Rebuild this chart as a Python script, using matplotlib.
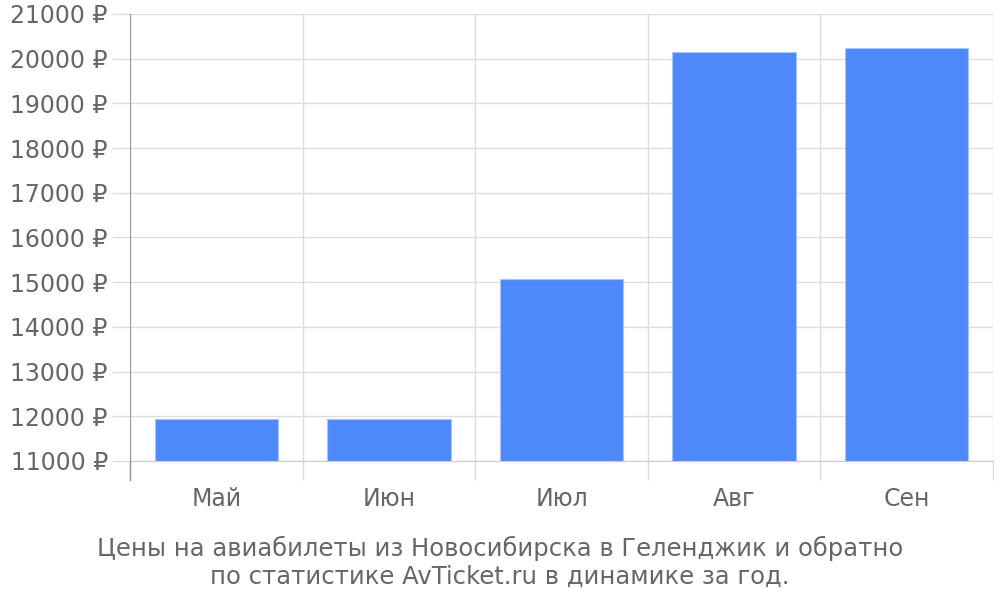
import matplotlib.pyplot as plt
import numpy as np

months = ["Май", "Июн", "Июл", "Авг", "Сен"]
prices = [11950, 11950, 15060, 20160, 20250]
y_ticks = list(range(11000, 21001, 1000))
caption = ("Цены на авиабилеты из Новосибирска в Геленджик и обратно\n"
           "по статистике AvTicket.ru в динамике за год.")

plt.rcParams['font.family'] = ['DejaVu Sans']

fig = plt.figure(figsize=(10, 6), dpi=100)
ax = fig.add_axes([0.13, 0.2317, 0.863, 0.745])

x = np.arange(len(months))
ax.bar(x, np.array(prices) - 11000, bottom=11000, width=0.715,
       color='#4d89f9', edgecolor='#a9c4fb', linewidth=0.8, zorder=3)

ax.set_xlim(-0.5, len(months) - 0.5)
ax.set_ylim(11000, 21000)

# y ticks and horizontal grid
ax.set_yticks(y_ticks)
ax.set_yticklabels([f"{v} ₽" for v in y_ticks])
ax.tick_params(axis='y', length=13, color='#dddddd', width=1, pad=3,
               labelsize=17, labelcolor='#666666')
ax.grid(axis='y', color='#dddddd', linewidth=1, zorder=0)

# x labels centred, grid at category boundaries
ax.set_xticks(x)
ax.set_xticklabels(months)
ax.set_xticks(np.arange(-0.5, len(months)), minor=True)
ax.tick_params(axis='x', which='major', length=0, pad=19,
               labelsize=17, labelcolor='#666666')
ax.tick_params(axis='x', which='minor', length=14, color='#dddddd', width=1)
ax.grid(axis='x', which='minor', color='#dddddd', linewidth=1, zorder=0)

for s in ['top', 'right']:
    ax.spines[s].set_visible(False)
ax.spines['left'].set_color('#999999')
ax.spines['left'].set_bounds(11000, 21000)
ax.spines['bottom'].set_color('#cccccc')

# darker tick on the y-axis line
ax.plot([-0.5, -0.5], [11000, 11000 - 19 / 44.7 * 1000], color='#999999',
        linewidth=1, clip_on=False, zorder=4)

fig.text(0.5, 0.018, caption, ha='center', va='bottom', fontsize=17.5,
         color='#666666', linespacing=1.2)

fig.savefig('out.png', dpi=100)
